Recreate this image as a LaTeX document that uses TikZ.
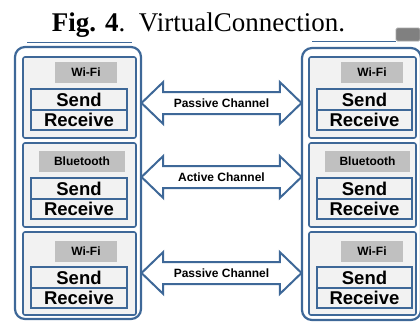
\documentclass[tikz,border=0pt]{standalone}
\usepackage{fontspec}
\setmainfont{Liberation Serif}
\newfontfamily\arialf{Liberation Sans}
\usetikzlibrary{shapes.arrows}
\definecolor{bord}{RGB}{62,104,152}
\definecolor{panelfill}{RGB}{242,242,242}
\definecolor{labfill}{RGB}{192,192,192}
\definecolor{sqfill}{RGB}{128,128,128}
\begin{document}
\begin{tikzpicture}[x=1pt,y=-1pt,
  container/.style={draw=bord, line width=2.2pt, rounded corners=10pt, inner sep=0pt},
  panel/.style={draw=bord, line width=1.6pt, fill=panelfill, rounded corners=2pt, inner sep=0pt},
  lab/.style={fill=labfill, inner sep=0pt, minimum height=21pt, text height=8.6pt, text depth=0pt,
    font=\arialf\bfseries\fontsize{12}{12}\selectfont},
  srbox/.style={draw=bord, line width=2pt, fill=panelfill, inner sep=0pt, minimum height=20.5pt,
    text height=13.3pt, text depth=0pt, font=\arialf\bfseries\fontsize{18.5}{18}\selectfont},
  chan/.style={shape=double arrow, draw=bord, line width=2pt, fill=white, inner xsep=2pt, inner ysep=0pt,
    minimum height=160pt, double arrow head extend=10pt, double arrow tip angle=88,
    text height=14.3pt, text depth=5.7pt, font=\arialf\bfseries\fontsize{12}{12}\selectfont},
  deco/.style={draw=bord, line width=1pt}
]
\useasboundingbox (0,0) rectangle (420,322);

% title
\node[anchor=base, inner sep=0pt, font=\fontsize{27}{30}\selectfont] (title) at (198.5,31)
  {{\bfseries Fig. 4}.\enspace VirtualConnection.};
\draw[deco] (27,42) -- (132,42);
\draw[deco] (312,41) -- (396,41);
\node[fill=sqfill, draw=gray!70, line width=0.8pt, rounded corners=1.5pt, minimum width=24pt, minimum height=13pt, inner sep=0pt] (sq) at (408,34.5) {};

% containers
\node[container, minimum width=126pt, minimum height=272pt] (L) at (78,183) {};
\node[container, minimum width=119pt, minimum height=272pt] (R) at (361.5,184) {};

% left panels
\node[panel, minimum width=113pt, minimum height=81pt] (LP1) at (79.5,97.5) {};
\node[panel, minimum width=113pt, minimum height=84pt] (LP2) at (79.5,185) {};
\node[panel, minimum width=113pt, minimum height=83pt] (LP3) at (79.5,273.5) {};
\node[lab, minimum width=62pt] (LL1) at (86,72.5) {Wi-Fi};
\node[lab, minimum width=86pt] (LL2) at (82,161.5) {Bluetooth};
\node[lab, minimum width=62pt] (LL3) at (86,251) {Wi-Fi};
\node[srbox, minimum width=96pt] (LS1) at (79,99.5) {Send};
\node[srbox, minimum width=96pt] (LR1) at (79,120) {Receive};
\node[srbox, minimum width=96pt] (LS2) at (79,188.5) {Send};
\node[srbox, minimum width=96pt] (LR2) at (79,209) {Receive};
\node[srbox, minimum width=96pt] (LS3) at (79,277.5) {Send};
\node[srbox, minimum width=96pt] (LR3) at (79,298) {Receive};

% right panels
\node[panel, minimum width=107pt, minimum height=81pt] (RP1) at (362.5,97.5) {};
\node[panel, minimum width=107pt, minimum height=84pt] (RP2) at (362.5,185) {};
\node[panel, minimum width=107pt, minimum height=83pt] (RP3) at (362.5,273.5) {};
\node[lab, minimum width=62pt] (RL1) at (372,72.5) {Wi-Fi};
\node[lab, minimum width=85pt] (RL2) at (367.5,161.5) {Bluetooth};
\node[lab, minimum width=62pt] (RL3) at (372,251) {Wi-Fi};
\node[srbox, minimum width=95pt] (RS1) at (364.5,99.5) {Send};
\node[srbox, minimum width=95pt] (RR1) at (364.5,120) {Receive};
\node[srbox, minimum width=95pt] (RS2) at (364.5,188.5) {Send};
\node[srbox, minimum width=95pt] (RR2) at (364.5,209) {Receive};
\node[srbox, minimum width=95pt] (RS3) at (364.5,277.5) {Send};
\node[srbox, minimum width=95pt] (RR3) at (364.5,298) {Receive};

% channels
\node[chan] (C1) at (221.5,103) {Passive Channel};
\node[chan] (C2) at (221.5,177) {Active Channel};
\node[chan] (C3) at (221.5,273) {Passive Channel};
\end{tikzpicture}
\end{document}
